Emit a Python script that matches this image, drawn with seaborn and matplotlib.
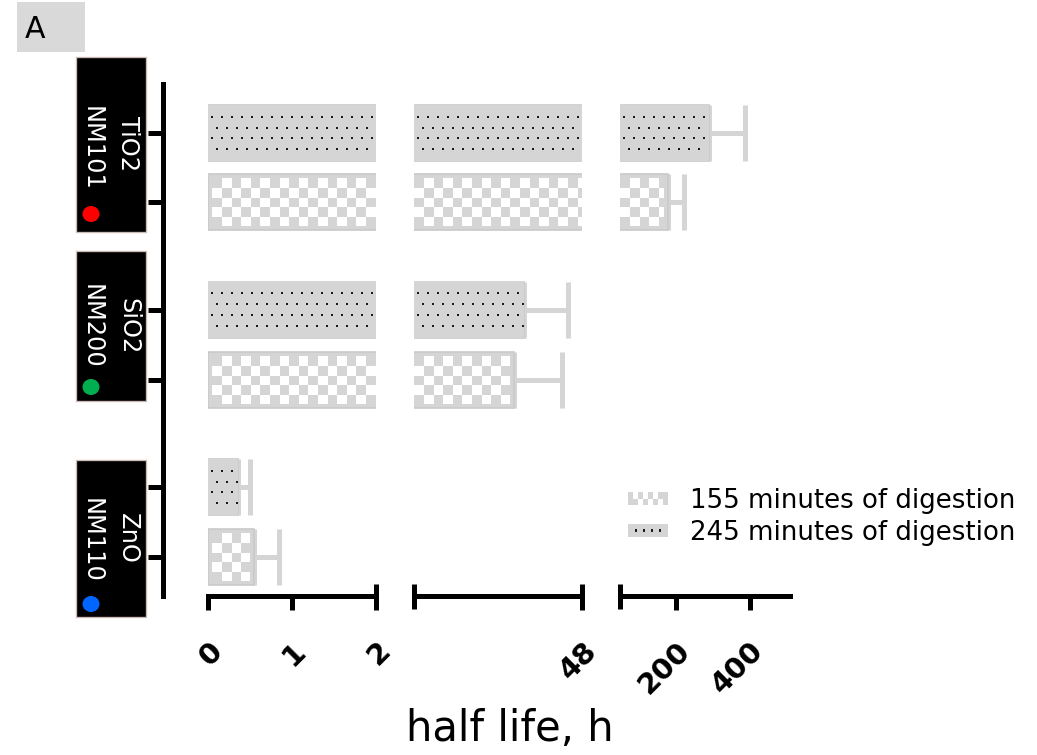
import numpy as np
import pandas as pd
import matplotlib
matplotlib.use('Agg')
import matplotlib.pyplot as plt
import seaborn as sns
from matplotlib.patches import Patch, Rectangle, Ellipse
from matplotlib.colors import to_rgba
from matplotlib.legend_handler import HandlerBase

# --- data ---
materials = ['TiO2 NM101', 'SiO2 NM200', 'ZnO NM110']
half_life_155 = [178, 29.4, 0.55]
sd_155 = [44, 13.1, 0.30]
half_life_245 = [290, 32.0, 0.36]
sd_245 = [97, 12.2, 0.14]
labels = ['155 minutes of digestion', '245 minutes of digestion']

# broken x axis: pieces, labelled ticks, break caps
segments = [(0, 2), (2, 48), (48, 510)]
seg_ticks = [[0, 1, 2], [48], [200, 400]]
seg_caps = [[2], [2, 48], [48]]

# material label boxes on the left
box_names = ['TiO2', 'SiO2', 'ZnO']
box_codes = ['NM101', 'NM200', 'NM110']
box_dots = ['#ff0000', '#00b050', '#0066ff']

BAR_GRAY = '#d5d5d5'
DOT_COLOR = '#1a1a1a'

sns.set_style('ticks')
plt.rcParams['font.family'] = ['DejaVu Sans']
for k in ['text.color', 'axes.labelcolor', 'xtick.color', 'ytick.color', 'axes.edgecolor']:
    plt.rcParams[k] = 'black'

df = pd.DataFrame({
    'material': materials * 2,
    'digestion': [labels[1]] * 3 + [labels[0]] * 3,
    'half_life': half_life_245 + half_life_155,
})

DPI = 120
W, H = 1037, 755
fig = plt.figure(figsize=(W / DPI, H / DPI), dpi=DPI)

# overlay in pixel coordinates for the label boxes
ov = fig.add_axes([0, 0, 1, 1])
ov.set_xlim(0, W)
ov.set_ylim(H, 0)
ov.axis('off')

ov.add_patch(Rectangle((17, 2), 68, 50, facecolor='#d9d9d9', edgecolor='none'))
ov.text(35, 29, 'A', ha='center', va='center', fontsize=18)

box_spans = [(57, 232), (251, 401), (460, 617)]
name_y = [143, 326, 538]
code_y = [148, 326, 540]
dot_y = [214, 387, 604]
for i in range(3):
    top, bot = box_spans[i]
    ov.add_patch(Rectangle((76, top), 70, bot - top, facecolor='black',
                           edgecolor='#cbbcb3', linewidth=0.8))
    ov.text(128, name_y[i], box_names[i], rotation=270, ha='center', va='center',
            color='white', fontsize=14.5)
    ov.text(92, code_y[i], box_codes[i], rotation=270, ha='center', va='center',
            color='white', fontsize=14.5)
    ov.add_patch(Ellipse((91, dot_y[i]), 17, 16, facecolor=box_dots[i], edgecolor='none'))


def add_pattern(ax, patch, kind, inset=4):
    # fill a bar (clipped to this axis piece) with a pixel pattern image
    xlo, xhi = ax.get_xlim()
    x0 = max(patch.get_x(), xlo)
    x1 = min(patch.get_x() + patch.get_width(), xhi)
    if x1 <= x0:
        return
    to_px = ax.transData.transform
    px0, py_top = to_px((x0, patch.get_y()))
    px1, py_bot = to_px((x1, patch.get_y() + patch.get_height()))
    starts_here = patch.get_x() >= xlo
    ends_here = patch.get_x() + patch.get_width() <= xhi
    left = int(round(px0)) + (inset if starts_here else 0)
    right = int(round(px1)) - (inset if ends_here else 0)
    top = int(round(py_top)) - inset
    bot = int(round(py_bot)) + inset
    w, h = right - left, top - bot
    if w <= 0 or h <= 0:
        return
    img = np.empty((h, w, 4))
    img[:] = to_rgba(BAR_GRAY)
    rr, cc = np.mgrid[0:h, 0:w]
    if kind == 'checker':
        sq = h / 5
        white = ((rr / sq).astype(int) + (cc / sq).astype(int)) % 2 == 1
        img[white] = to_rgba('white')
    else:
        rows = h / 2 + np.array([-15.6, -5.2, 5.2, 15.6])
        for j, ry in enumerate(rows):
            ry = int(round(ry))
            for xd in range(3 + 5 * (j % 2), w - 1, 10):
                img[ry - 1:ry + 1, xd:xd + 2] = to_rgba(DOT_COLOR)
    inv = ax.transData.inverted().transform
    dl, dt = inv((left, top))
    dr, db = inv((right, bot))
    ax.imshow(img, extent=(dl, dr, db, dt), origin='upper', aspect='auto',
              interpolation='nearest', zorder=1.5)


ax_lefts = [208, 414.3, 620]
ax_widths = [168, 168, 170]
ax_top, ax_bottom = 84, 596
YLIM = (2.416, -0.471)

for i, seg in enumerate(segments):
    ax = fig.add_axes([ax_lefts[i] / W, (H - ax_bottom) / H,
                       ax_widths[i] / W, (ax_bottom - ax_top) / H])
    sns.barplot(data=df, x='half_life', y='material', hue='digestion',
                hue_order=[labels[1], labels[0]], order=materials, orient='h',
                palette=[BAR_GRAY, BAR_GRAY], saturation=1, width=0.784, gap=0.195,
                errorbar=None, edgecolor='#c9c9c9', linewidth=1.0, legend=False, ax=ax)
    bars_245, bars_155 = ax.containers[0], ax.containers[1]
    c245 = [p.get_y() + p.get_height() / 2 for p in bars_245]
    c155 = [p.get_y() + p.get_height() / 2 for p in bars_155]

    # error bars belong to the piece where the bar ends
    for vals, sds, cy in [(half_life_245, sd_245, c245), (half_life_155, sd_155, c155)]:
        keep = [k for k in range(3) if seg[0] <= vals[k] < seg[1]]
        if keep:
            ax.errorbar([vals[k] for k in keep], [cy[k] for k in keep],
                        xerr=[np.zeros(len(keep)), [sds[k] for k in keep]], fmt='none',
                        ecolor=BAR_GRAY, elinewidth=3, capsize=16.8, capthick=3, zorder=0.5)

    ax.set_xlim(seg)
    ax.set_ylim(YLIM)
    for p in bars_245:
        add_pattern(ax, p, 'dots', inset=0)
    for p in bars_155:
        add_pattern(ax, p, 'checker')
    ax.set_xlim(seg)
    ax.set_ylim(YLIM)

    ax.set_xlabel('')
    ax.set_ylabel('')
    sns.despine(ax=ax, top=True, right=True, left=(i > 0))
    for s in ['bottom', 'left']:
        ax.spines[s].set_linewidth(3)

    ax.set_xticks(seg_ticks[i])
    ax.set_xticklabels([str(t) for t in seg_ticks[i]], rotation=45, ha='right', va='top',
                       rotation_mode='anchor', fontweight='bold', fontsize=17.5)
    ax.set_xticks(seg_caps[i], minor=True)
    ax.xaxis.remove_overlapping_locs = False
    ax.tick_params(axis='x', which='major', direction='out', length=8.4, width=3, pad=16)
    ax.tick_params(axis='x', which='minor', direction='inout', length=15, width=3)

    if i == 0:
        ax.spines['left'].set_position(('outward', 27))
        ax.set_yticks(sorted(c245 + c155))
        ax.set_yticklabels([])
        ax.tick_params(axis='y', direction='out', length=9, width=3)
    else:
        ax.tick_params(axis='y', left=False, labelleft=False)


class PatternPatch(Patch):
    def __init__(self, kind, **kw):
        super().__init__(**kw)
        self.kind = kind


class PatternHandler(HandlerBase):
    def create_artists(self, legend, orig_handle, xdescent, ydescent, width, height,
                       fontsize, trans):
        x0, y0 = -xdescent, -ydescent
        arts = [Rectangle((x0, y0), width, height, facecolor=BAR_GRAY,
                          edgecolor='none', transform=trans)]
        if orig_handle.kind == 'checker':
            nc, nr = 8, 2
            cw, ch = width / nc, height / nr
            for r in range(nr):
                for c in range(1, nc - 1):
                    if (r + c) % 2 == 0:
                        arts.append(Rectangle((x0 + c * cw, y0 + r * ch), cw, ch,
                                              facecolor='white', edgecolor='none',
                                              transform=trans))
        else:
            d = 1.3
            for k in range(4):
                cx = x0 + width * (0.2 + 0.2 * k)
                arts.append(Rectangle((cx - d / 2, y0 + height / 2 - d / 2), d, d,
                                      facecolor=DOT_COLOR, edgecolor='none',
                                      transform=trans))
        return arts


handles = [PatternPatch('checker'), PatternPatch('dots')]
fig.legend(handles, labels, loc='upper left', bbox_to_anchor=(628 / W, 1 - 488 / H),
           frameon=False, fontsize=15.6, handlelength=1.54, handleheight=0.42,
           handletextpad=0.85, labelspacing=0.22, borderpad=0, borderaxespad=0,
           handler_map={PatternPatch: PatternHandler()})

fig.text(510 / W, 1 - 729 / H, 'half life, h', ha='center', va='center', fontsize=25)

fig.savefig('out.png', dpi=DPI)
